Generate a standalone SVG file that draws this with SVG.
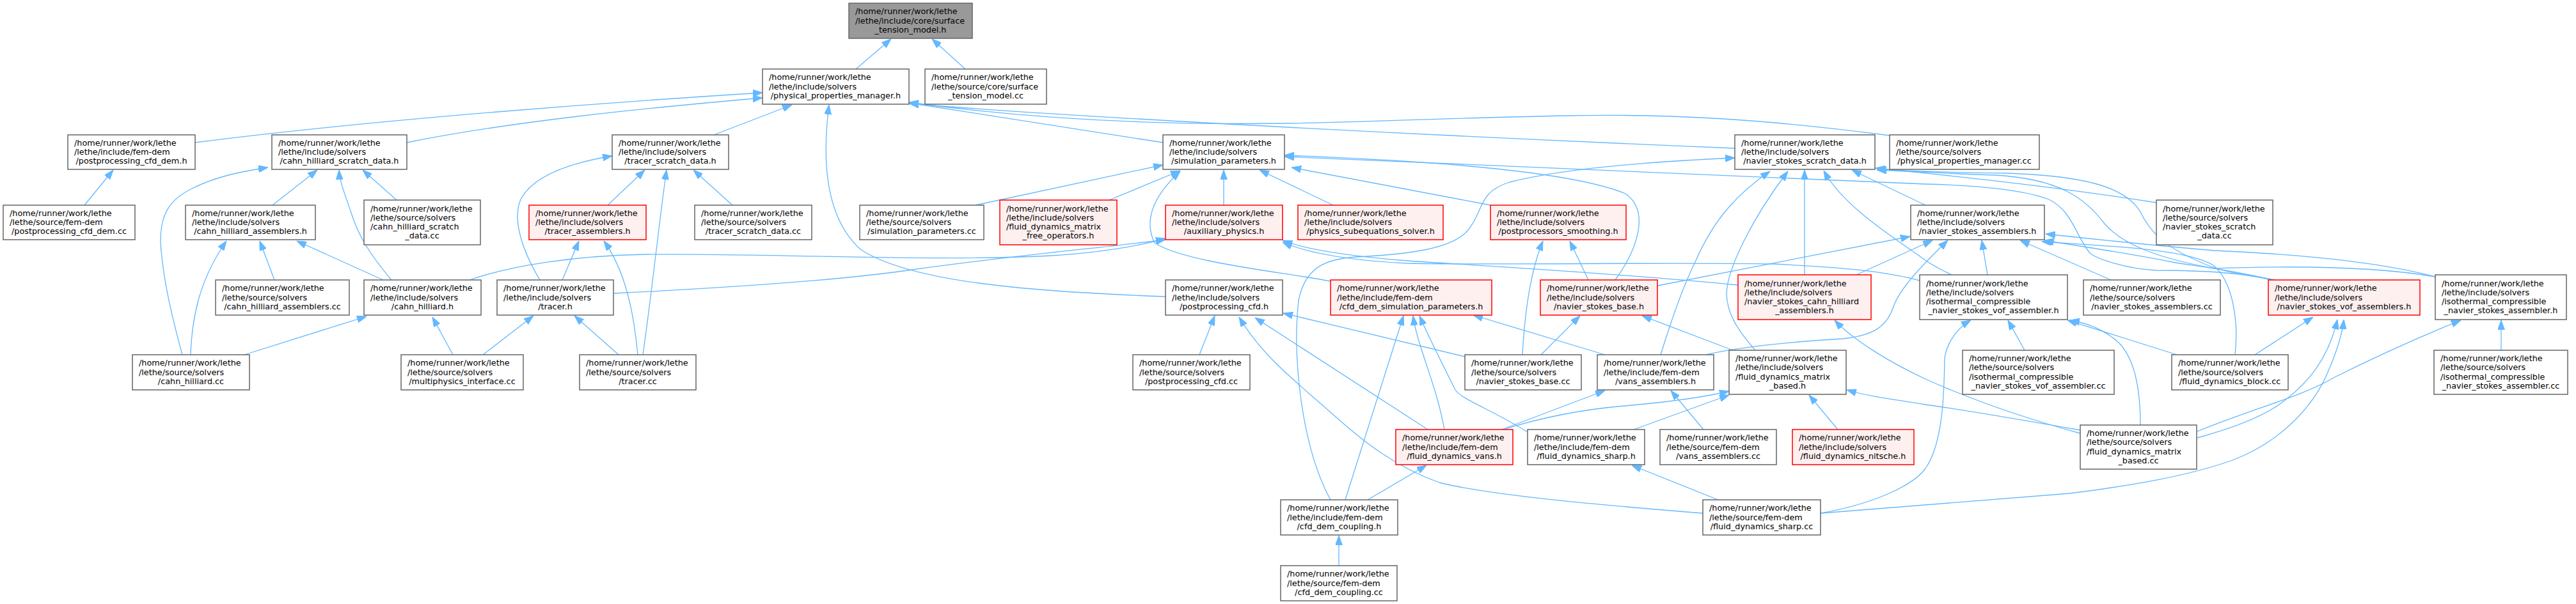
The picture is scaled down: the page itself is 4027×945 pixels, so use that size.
<svg xmlns="http://www.w3.org/2000/svg" width="4027" height="945" viewBox="0 0 4027 945">
<style>
.node rect{fill:#ffffff;stroke:#666666;stroke-width:1.5}
.node.red rect{fill:#fff0f0;stroke:#ff0000}
.node.root rect{fill:#999999;stroke:#666666}
.node text{font-family:"DejaVu Sans",sans-serif;font-size:12.8px;fill:#000000}
.c{text-anchor:middle}
#edges path{fill:none;stroke:#63b8ff;stroke-width:1.3;marker-end:url(#ah)}
</style>
<defs>
<marker id="ah" markerUnits="userSpaceOnUse" markerWidth="15" markerHeight="11" refX="15" refY="5.5" orient="auto" viewBox="0 0 15 11">
<path d="M0,0 L15,5.5 L0,11 z" fill="#63b8ff" stroke="#63b8ff" stroke-width="1"/>
</marker>
</defs>
<rect width="4027" height="945" fill="#ffffff"/>
<g id="edges">
<path d="M1338,108 L1393,61"/>
<path d="M1509,108 L1457,61"/>
<path d="M305,223 C600,185 1000,157 1192,145"/>
<path d="M636,223 C800,190 1000,170 1192,153"/>
<path d="M1116,211 L1238,164"/>
<path d="M1818,223 L1421,161"/>
<path d="M2712,232 C2300,215 1700,185 1421,162"/>
<path d="M2954,212 C2750,185 2600,178 2451,181 C2250,185 2100,192 2010,193 C1800,196 1600,185 1421,160"/>
<path d="M1822,464 C1600,456 1420,440 1345,390 C1290,340 1285,250 1296,164"/>
<path d="M1525,321 L1818,258"/>
<path d="M1734,313 L1845,267"/>
<path d="M1913,321 L1913,266"/>
<path d="M2080,440 C2000,425 1850,410 1805,380 C1785,340 1810,300 1845,268"/>
<path d="M2084,321 L1969,266"/>
<path d="M2330,321 L2019,262"/>
<path d="M2525,438 C2560,390 2580,330 2541,303 C2450,265 2200,250 2008,243"/>
<path d="M3551,438 C3500,425 3420,423 3371,423 C3320,420 3280,405 3268,397 C3245,370 3240,330 3203,312 C3150,292 3050,289 3010,288 L2008,245"/>
<path d="M2080,782 C2035,700 2020,560 2030,470 C2040,420 2070,405 2120,402 C2200,398 2270,390 2295,360 C2320,330 2310,300 2360,285 C2450,262 2600,252 2712,247"/>
<path d="M2596,555 C2610,510 2630,450 2650,410 C2680,340 2720,300 2767,268"/>
<path d="M2744,548 C2715,515 2700,490 2699,460 C2700,420 2740,340 2795,268"/>
<path d="M2821,430 L2821,266"/>
<path d="M3051,430 C3030,420 3015,412 3000,400 C2950,365 2880,320 2851,267"/>
<path d="M3010,321 L2895,266"/>
<path d="M3371,317 C3200,290 3050,275 2932,263"/>
<path d="M3557,438 C3500,428 3470,425 3440,410 C3380,385 3360,360 3345,330 C3320,290 3250,275 3139,271 C3060,270 2990,268 2934,265"/>
<path d="M3807,433 C3720,418 3600,415 3461,420 C3380,405 3320,385 3290,350 C3260,310 3220,280 3119,274 C3050,272 2990,268 2934,266"/>
<path d="M734,438 C800,415 900,400 1010,398 C1200,396 1450,410 1644,400 C1720,395 1780,385 1822,373"/>
<path d="M959,459 C1100,452 1300,440 1419,423 C1580,400 1720,388 1822,375"/>
<path d="M2717,446 C2500,425 2300,415 2200,408 C2100,400 2040,390 2005,376"/>
<path d="M3001,439 C2950,425 2880,418 2773,413 C2600,410 2350,415 2200,412 C2100,407 2040,394 2005,379"/>
<path d="M1875,555 L1899,494"/>
<path d="M2662,803 C2500,790 2330,775 2250,755 C2180,730 2130,690 2080,645 C2030,600 1975,560 1937,496"/>
<path d="M2232,672 L1962,497"/>
<path d="M2290,558 L2006,490"/>
<path d="M2103,782 L2194,494"/>
<path d="M2258,672 C2245,600 2215,540 2209,494"/>
<path d="M2388,676 C2330,640 2285,625 2275,610 C2255,570 2230,520 2219,494"/>
<path d="M2509,555 L2303,493"/>
<path d="M2348,672 L2509,611"/>
<path d="M2350,672 C2420,650 2480,640 2540,635 C2620,628 2670,620 2703,612"/>
<path d="M2554,672 L2703,618"/>
<path d="M2138,782 L2230,728"/>
<path d="M2686,782 L2551,728"/>
<path d="M2093,885 L2093,838"/>
<path d="M2663,672 L2612,611"/>
<path d="M2873,672 L2828,618"/>
<path d="M2409,555 L2470,494"/>
<path d="M2709,548 L2567,494"/>
<path d="M2380,555 C2383,500 2390,430 2412,377"/>
<path d="M2483,438 L2454,377"/>
<path d="M3252,678 C3150,650 3070,620 3010,593 C2950,565 2895,530 2868,501"/>
<path d="M3252,673 C3150,655 3060,640 3010,633 C2960,625 2920,620 2887,610"/>
<path d="M2591,447 L2986,370"/>
<path d="M2902,430 L3021,376"/>
<path d="M2667,555 C2720,542 2800,535 2880,530 C2930,525 2950,510 2960,480 C2970,450 3010,410 3045,376"/>
<path d="M3107,430 L3098,376"/>
<path d="M3300,438 L3158,376"/>
<path d="M3494,555 C3500,500 3490,440 3460,415 C3420,390 3300,385 3192,378"/>
<path d="M3807,433 C3720,410 3600,398 3461,392 C3380,385 3280,375 3198,366"/>
<path d="M3553,438 C3480,420 3420,415 3396,410 C3320,395 3250,385 3196,376"/>
<path d="M3525,555 L3616,496"/>
<path d="M3403,555 L3232,501"/>
<path d="M3346,665 C3346,620 3340,565 3313,537 C3290,515 3260,505 3236,501"/>
<path d="M3435,685 C3490,670 3530,655 3560,635 C3610,600 3640,560 3654,500"/>
<path d="M3435,675 C3520,640 3600,620 3650,590 C3730,550 3800,520 3847,501"/>
<path d="M2846,803 C3000,790 3150,780 3235,772 C3330,760 3420,745 3490,720 C3570,690 3620,630 3640,580 C3655,545 3662,520 3664,500"/>
<path d="M2846,803 C2930,788 2990,760 3010,733 C3040,690 3039,600 3040,560 C3045,530 3065,510 3081,501"/>
<path d="M3165,548 L3139,501"/>
<path d="M3910,548 L3910,501"/>
<path d="M132,321 L177,266"/>
<path d="M426,321 L496,266"/>
<path d="M620,313 L567,266"/>
<path d="M612,438 C580,400 560,370 548,330 C538,300 531,285 530,266"/>
<path d="M599,438 L464,377"/>
<path d="M429,438 L406,377"/>
<path d="M285,555 C270,500 255,440 251,380 C250,330 270,310 300,295 C340,275 380,268 419,262"/>
<path d="M298,555 C300,500 310,440 354,377"/>
<path d="M382,555 L573,495"/>
<path d="M708,555 L676,496"/>
<path d="M755,555 L834,494"/>
<path d="M967,555 L898,494"/>
<path d="M997,555 C990,480 975,420 944,377"/>
<path d="M1005,555 C1020,450 1030,350 1042,266"/>
<path d="M879,438 L905,377"/>
<path d="M844,438 C815,390 800,340 815,310 C835,275 890,255 957,244"/>
<path d="M950,321 L1008,266"/>
<path d="M1145,321 L1084,266"/>
</g>
<g id="n1" class="node root"><rect x="1327" y="5" width="193" height="55"/><text x="1337" y="22.2">/home/runner/work/lethe<tspan x="1337" dy="14.3">/lethe/include/core/surface</tspan><tspan class="c" x="1423.5" dy="14.3">_tension_model.h</tspan></text></g>
<g id="n2" class="node"><rect x="1192" y="108" width="229" height="55"/><text x="1202" y="125.2">/home/runner/work/lethe<tspan x="1202" dy="14.3">/lethe/include/solvers</tspan><tspan class="c" x="1306.5" dy="14.3">/physical_properties_manager.h</tspan></text></g>
<g id="n3" class="node"><rect x="1446" y="108" width="190" height="55"/><text x="1456" y="125.2">/home/runner/work/lethe<tspan x="1456" dy="14.3">/lethe/source/core/surface</tspan><tspan class="c" x="1541" dy="14.3">_tension_model.cc</tspan></text></g>
<g id="n4" class="node"><rect x="106" y="211" width="199" height="54"/><text x="116" y="227.7">/home/runner/work/lethe<tspan x="116" dy="14.3">/lethe/include/fem-dem</tspan><tspan class="c" x="205.5" dy="14.3">/postprocessing_cfd_dem.h</tspan></text></g>
<g id="n5" class="node"><rect x="425" y="211" width="211" height="54"/><text x="435" y="227.7">/home/runner/work/lethe<tspan x="435" dy="14.3">/lethe/include/solvers</tspan><tspan class="c" x="530.5" dy="14.3">/cahn_hilliard_scratch_data.h</tspan></text></g>
<g id="n6" class="node"><rect x="957" y="211" width="182" height="54"/><text x="967" y="227.7">/home/runner/work/lethe<tspan x="967" dy="14.3">/lethe/include/solvers</tspan><tspan class="c" x="1048" dy="14.3">/tracer_scratch_data.h</tspan></text></g>
<g id="n7" class="node"><rect x="1818" y="211" width="190" height="54"/><text x="1828" y="227.7">/home/runner/work/lethe<tspan x="1828" dy="14.3">/lethe/include/solvers</tspan><tspan class="c" x="1913" dy="14.3">/simulation_parameters.h</tspan></text></g>
<g id="n8" class="node"><rect x="2712" y="211" width="219" height="54"/><text x="2722" y="227.7">/home/runner/work/lethe<tspan x="2722" dy="14.3">/lethe/include/solvers</tspan><tspan class="c" x="2821.5" dy="14.3">/navier_stokes_scratch_data.h</tspan></text></g>
<g id="n9" class="node"><rect x="2954" y="211" width="234" height="54"/><text x="2964" y="227.7">/home/runner/work/lethe<tspan x="2964" dy="14.3">/lethe/source/solvers</tspan><tspan class="c" x="3071" dy="14.3">/physical_properties_manager.cc</tspan></text></g>
<g id="n10" class="node"><rect x="5" y="321" width="206" height="54"/><text x="15" y="337.7">/home/runner/work/lethe<tspan x="15" dy="14.3">/lethe/source/fem-dem</tspan><tspan class="c" x="108" dy="14.3">/postprocessing_cfd_dem.cc</tspan></text></g>
<g id="n11" class="node"><rect x="290" y="321" width="203" height="54"/><text x="300" y="337.7">/home/runner/work/lethe<tspan x="300" dy="14.3">/lethe/include/solvers</tspan><tspan class="c" x="391.5" dy="14.3">/cahn_hilliard_assemblers.h</tspan></text></g>
<g id="n12" class="node"><rect x="569" y="313" width="182" height="70"/><text x="579" y="330.55">/home/runner/work/lethe<tspan x="579" dy="14.3">/lethe/source/solvers</tspan><tspan x="579" dy="14.3">/cahn_hilliard_scratch</tspan><tspan class="c" x="660" dy="14.3">_data.cc</tspan></text></g>
<g id="n13" class="node red"><rect x="827" y="321" width="183" height="54"/><text x="837" y="337.7">/home/runner/work/lethe<tspan x="837" dy="14.3">/lethe/include/solvers</tspan><tspan class="c" x="918.5" dy="14.3">/tracer_assemblers.h</tspan></text></g>
<g id="n14" class="node"><rect x="1086" y="321" width="183" height="54"/><text x="1096" y="337.7">/home/runner/work/lethe<tspan x="1096" dy="14.3">/lethe/source/solvers</tspan><tspan class="c" x="1177.5" dy="14.3">/tracer_scratch_data.cc</tspan></text></g>
<g id="n15" class="node"><rect x="1344" y="321" width="194" height="54"/><text x="1354" y="337.7">/home/runner/work/lethe<tspan x="1354" dy="14.3">/lethe/source/solvers</tspan><tspan class="c" x="1441" dy="14.3">/simulation_parameters.cc</tspan></text></g>
<g id="n16" class="node red"><rect x="1563" y="313" width="183" height="70"/><text x="1573" y="330.55">/home/runner/work/lethe<tspan x="1573" dy="14.3">/lethe/include/solvers</tspan><tspan x="1573" dy="14.3">/fluid_dynamics_matrix</tspan><tspan class="c" x="1654.5" dy="14.3">_free_operators.h</tspan></text></g>
<g id="n17" class="node red"><rect x="1822" y="321" width="183" height="54"/><text x="1832" y="337.7">/home/runner/work/lethe<tspan x="1832" dy="14.3">/lethe/include/solvers</tspan><tspan class="c" x="1913.5" dy="14.3">/auxiliary_physics.h</tspan></text></g>
<g id="n18" class="node red"><rect x="2029" y="321" width="227" height="54"/><text x="2039" y="337.7">/home/runner/work/lethe<tspan x="2039" dy="14.3">/lethe/include/solvers</tspan><tspan class="c" x="2142.5" dy="14.3">/physics_subequations_solver.h</tspan></text></g>
<g id="n19" class="node red"><rect x="2330" y="321" width="212" height="54"/><text x="2340" y="337.7">/home/runner/work/lethe<tspan x="2340" dy="14.3">/lethe/include/solvers</tspan><tspan class="c" x="2436" dy="14.3">/postprocessors_smoothing.h</tspan></text></g>
<g id="n20" class="node"><rect x="2987" y="321" width="209" height="54"/><text x="2997" y="337.7">/home/runner/work/lethe<tspan x="2997" dy="14.3">/lethe/include/solvers</tspan><tspan class="c" x="3091.5" dy="14.3">/navier_stokes_assemblers.h</tspan></text></g>
<g id="n21" class="node"><rect x="3371" y="313" width="182" height="70"/><text x="3381" y="330.55">/home/runner/work/lethe<tspan x="3381" dy="14.3">/lethe/source/solvers</tspan><tspan x="3381" dy="14.3">/navier_stokes_scratch</tspan><tspan class="c" x="3462" dy="14.3">_data.cc</tspan></text></g>
<g id="n22" class="node"><rect x="337" y="438" width="209" height="55"/><text x="347" y="455.2">/home/runner/work/lethe<tspan x="347" dy="14.3">/lethe/source/solvers</tspan><tspan class="c" x="441.5" dy="14.3">/cahn_hilliard_assemblers.cc</tspan></text></g>
<g id="n23" class="node"><rect x="569" y="438" width="183" height="55"/><text x="579" y="455.2">/home/runner/work/lethe<tspan x="579" dy="14.3">/lethe/include/solvers</tspan><tspan class="c" x="660.5" dy="14.3">/cahn_hilliard.h</tspan></text></g>
<g id="n24" class="node"><rect x="777" y="438" width="182" height="55"/><text x="787" y="455.2">/home/runner/work/lethe<tspan x="787" dy="14.3">/lethe/include/solvers</tspan><tspan class="c" x="868" dy="14.3">/tracer.h</tspan></text></g>
<g id="n25" class="node"><rect x="1822" y="438" width="183" height="55"/><text x="1832" y="455.2">/home/runner/work/lethe<tspan x="1832" dy="14.3">/lethe/include/solvers</tspan><tspan class="c" x="1913.5" dy="14.3">/postprocessing_cfd.h</tspan></text></g>
<g id="n26" class="node red"><rect x="2080" y="438" width="252" height="55"/><text x="2090" y="455.2">/home/runner/work/lethe<tspan x="2090" dy="14.3">/lethe/include/fem-dem</tspan><tspan class="c" x="2206" dy="14.3">/cfd_dem_simulation_parameters.h</tspan></text></g>
<g id="n27" class="node red"><rect x="2408" y="438" width="183" height="55"/><text x="2418" y="455.2">/home/runner/work/lethe<tspan x="2418" dy="14.3">/lethe/include/solvers</tspan><tspan class="c" x="2499.5" dy="14.3">/navier_stokes_base.h</tspan></text></g>
<g id="n28" class="node red"><rect x="2717" y="430" width="208" height="70"/><text x="2727" y="447.55">/home/runner/work/lethe<tspan x="2727" dy="14.3">/lethe/include/solvers</tspan><tspan x="2727" dy="14.3">/navier_stokes_cahn_hilliard</tspan><tspan class="c" x="2821" dy="14.3">_assemblers.h</tspan></text></g>
<g id="n29" class="node"><rect x="3001" y="430" width="231" height="70"/><text x="3011" y="447.55">/home/runner/work/lethe<tspan x="3011" dy="14.3">/lethe/include/solvers</tspan><tspan x="3011" dy="14.3">/isothermal_compressible</tspan><tspan class="c" x="3116.5" dy="14.3">_navier_stokes_vof_assembler.h</tspan></text></g>
<g id="n30" class="node"><rect x="3257" y="438" width="214" height="55"/><text x="3267" y="455.2">/home/runner/work/lethe<tspan x="3267" dy="14.3">/lethe/source/solvers</tspan><tspan class="c" x="3364" dy="14.3">/navier_stokes_assemblers.cc</tspan></text></g>
<g id="n31" class="node red"><rect x="3546" y="438" width="237" height="55"/><text x="3556" y="455.2">/home/runner/work/lethe<tspan x="3556" dy="14.3">/lethe/include/solvers</tspan><tspan class="c" x="3664.5" dy="14.3">/navier_stokes_vof_assemblers.h</tspan></text></g>
<g id="n32" class="node"><rect x="3807" y="430" width="205" height="70"/><text x="3817" y="447.55">/home/runner/work/lethe<tspan x="3817" dy="14.3">/lethe/include/solvers</tspan><tspan x="3817" dy="14.3">/isothermal_compressible</tspan><tspan class="c" x="3909.5" dy="14.3">_navier_stokes_assembler.h</tspan></text></g>
<g id="n33" class="node"><rect x="207" y="555" width="183" height="55"/><text x="217" y="572.2">/home/runner/work/lethe<tspan x="217" dy="14.3">/lethe/source/solvers</tspan><tspan class="c" x="298.5" dy="14.3">/cahn_hilliard.cc</tspan></text></g>
<g id="n34" class="node"><rect x="627" y="555" width="191" height="55"/><text x="637" y="572.2">/home/runner/work/lethe<tspan x="637" dy="14.3">/lethe/source/solvers</tspan><tspan class="c" x="722.5" dy="14.3">/multiphysics_interface.cc</tspan></text></g>
<g id="n35" class="node"><rect x="906" y="555" width="182" height="55"/><text x="916" y="572.2">/home/runner/work/lethe<tspan x="916" dy="14.3">/lethe/source/solvers</tspan><tspan class="c" x="997" dy="14.3">/tracer.cc</tspan></text></g>
<g id="n36" class="node"><rect x="1771" y="555" width="183" height="55"/><text x="1781" y="572.2">/home/runner/work/lethe<tspan x="1781" dy="14.3">/lethe/source/solvers</tspan><tspan class="c" x="1862.5" dy="14.3">/postprocessing_cfd.cc</tspan></text></g>
<g id="n37" class="node"><rect x="2290" y="555" width="182" height="55"/><text x="2300" y="572.2">/home/runner/work/lethe<tspan x="2300" dy="14.3">/lethe/source/solvers</tspan><tspan class="c" x="2381" dy="14.3">/navier_stokes_base.cc</tspan></text></g>
<g id="n38" class="node"><rect x="2497" y="555" width="182" height="55"/><text x="2507" y="572.2">/home/runner/work/lethe<tspan x="2507" dy="14.3">/lethe/include/fem-dem</tspan><tspan class="c" x="2588" dy="14.3">/vans_assemblers.h</tspan></text></g>
<g id="n39" class="node"><rect x="2703" y="548" width="183" height="69"/><text x="2713" y="565.05">/home/runner/work/lethe<tspan x="2713" dy="14.3">/lethe/include/solvers</tspan><tspan x="2713" dy="14.3">/fluid_dynamics_matrix</tspan><tspan class="c" x="2794.5" dy="14.3">_based.h</tspan></text></g>
<g id="n40" class="node"><rect x="3068" y="548" width="237" height="69"/><text x="3078" y="565.05">/home/runner/work/lethe<tspan x="3078" dy="14.3">/lethe/source/solvers</tspan><tspan x="3078" dy="14.3">/isothermal_compressible</tspan><tspan class="c" x="3186.5" dy="14.3">_navier_stokes_vof_assembler.cc</tspan></text></g>
<g id="n41" class="node"><rect x="3395" y="555" width="182" height="55"/><text x="3405" y="572.2">/home/runner/work/lethe<tspan x="3405" dy="14.3">/lethe/source/solvers</tspan><tspan class="c" x="3486" dy="14.3">/fluid_dynamics_block.cc</tspan></text></g>
<g id="n42" class="node"><rect x="3805" y="548" width="209" height="69"/><text x="3815" y="565.05">/home/runner/work/lethe<tspan x="3815" dy="14.3">/lethe/source/solvers</tspan><tspan x="3815" dy="14.3">/isothermal_compressible</tspan><tspan class="c" x="3909.5" dy="14.3">_navier_stokes_assembler.cc</tspan></text></g>
<g id="n43" class="node red"><rect x="2182" y="672" width="183" height="55"/><text x="2192" y="689.2">/home/runner/work/lethe<tspan x="2192" dy="14.3">/lethe/include/fem-dem</tspan><tspan class="c" x="2273.5" dy="14.3">/fluid_dynamics_vans.h</tspan></text></g>
<g id="n44" class="node"><rect x="2388" y="672" width="183" height="55"/><text x="2398" y="689.2">/home/runner/work/lethe<tspan x="2398" dy="14.3">/lethe/include/fem-dem</tspan><tspan class="c" x="2479.5" dy="14.3">/fluid_dynamics_sharp.h</tspan></text></g>
<g id="n45" class="node"><rect x="2595" y="672" width="182" height="55"/><text x="2605" y="689.2">/home/runner/work/lethe<tspan x="2605" dy="14.3">/lethe/source/fem-dem</tspan><tspan class="c" x="2686" dy="14.3">/vans_assemblers.cc</tspan></text></g>
<g id="n46" class="node red"><rect x="2802" y="672" width="190" height="55"/><text x="2812" y="689.2">/home/runner/work/lethe<tspan x="2812" dy="14.3">/lethe/include/solvers</tspan><tspan class="c" x="2897" dy="14.3">/fluid_dynamics_nitsche.h</tspan></text></g>
<g id="n47" class="node"><rect x="3252" y="665" width="182" height="69"/><text x="3262" y="682.05">/home/runner/work/lethe<tspan x="3262" dy="14.3">/lethe/source/solvers</tspan><tspan x="3262" dy="14.3">/fluid_dynamics_matrix</tspan><tspan class="c" x="3343" dy="14.3">_based.cc</tspan></text></g>
<g id="n48" class="node"><rect x="2002" y="782" width="183" height="55"/><text x="2012" y="799.2">/home/runner/work/lethe<tspan x="2012" dy="14.3">/lethe/include/fem-dem</tspan><tspan class="c" x="2093.5" dy="14.3">/cfd_dem_coupling.h</tspan></text></g>
<g id="n49" class="node"><rect x="2662" y="782" width="184" height="55"/><text x="2672" y="799.2">/home/runner/work/lethe<tspan x="2672" dy="14.3">/lethe/source/fem-dem</tspan><tspan class="c" x="2754" dy="14.3">/fluid_dynamics_sharp.cc</tspan></text></g>
<g id="n50" class="node"><rect x="2002" y="885" width="182" height="55"/><text x="2012" y="902.2">/home/runner/work/lethe<tspan x="2012" dy="14.3">/lethe/source/fem-dem</tspan><tspan class="c" x="2093" dy="14.3">/cfd_dem_coupling.cc</tspan></text></g>
</svg>
